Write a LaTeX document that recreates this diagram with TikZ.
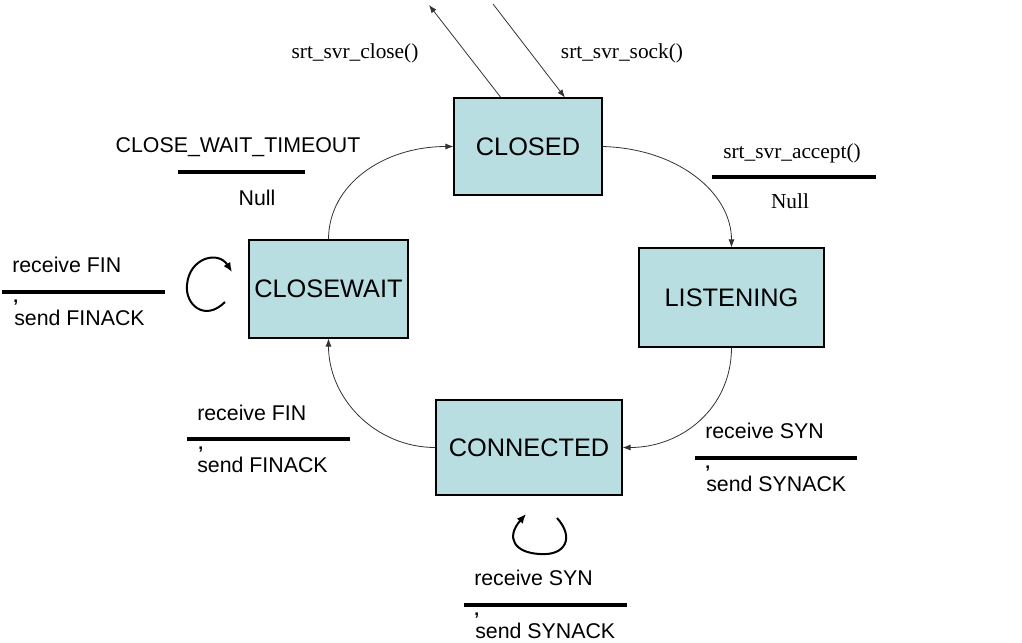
\documentclass[tikz,border=0pt]{standalone}
\usepackage{fontspec}
\setmainfont{Liberation Serif}
\newfontfamily\arial{Liberation Sans}
\usetikzlibrary{arrows.meta}
\definecolor{statefill}{RGB}{184,222,226}
\begin{document}
\begin{tikzpicture}[x=0.75pt,y=-0.75pt,
  state/.style={draw=black, line width=0.8pt, fill=statefill, font=\arial\fontsize{19}{22}\selectfont, inner sep=0pt},
  conn/.style={draw=black!80, line width=0.6pt, -{Latex[length=6pt,width=4.5pt]}},
  loopline/.style={draw=black, line width=1.5pt, -{Latex[length=7pt,width=6pt]}},
  rulebar/.style={draw=black, line width=2.8pt},
  lbl/.style={font=\arial\fontsize{16}{19}\selectfont, inner sep=0pt, anchor=base west},
  clbl/.style={font=\arial\fontsize{16}{19}\selectfont, inner sep=0pt, anchor=base},
  flbl/.style={font=\fontsize{16}{19}\selectfont, inner sep=0pt, anchor=base},
  commamark/.style={font=\arial\bfseries\fontsize{13}{15}\selectfont, inner sep=0pt, anchor=base west}]

\fill[white] (0,0) rectangle (1022,643);
\useasboundingbox (0,0) rectangle (1022,643);

% states
\node[state, minimum width=111pt, minimum height=72.75pt] (closed) at (528,146.5) {CLOSED};
\node[state, minimum width=138.75pt, minimum height=74.25pt] (listening) at (731.5,297.5) {LISTENING};
\node[state, minimum width=139.5pt, minimum height=71.25pt] (connected) at (529,447.5) {CONNECTED};
\node[state, minimum width=119.25pt, minimum height=73.5pt] (closewait) at (328.5,289) {CLOSEWAIT};

% transitions
\draw[conn] (closed.east) .. controls +(75,2) and +(0,-55) .. (listening.north);
\draw[conn] (listening.south) .. controls +(0,60) and +(60,0) .. (connected.east);
\draw[conn] (connected.west) .. controls +(-60,0) and +(0,60) .. (closewait.south);
\draw[conn] (closewait.north) .. controls +(0,-55) and +(-70,0) .. (closed.west);

% external arrows
\coordinate (closeout) at (429,5);
\coordinate (sockin) at (493,4);
\draw[conn] (closed.119) -- (closeout);
\draw[conn] (sockin) -- (closed.53);

% self loops
\coordinate (cwstart) at (225,302);
\coordinate (cwend) at (232,272);
\draw[loopline] (cwstart) .. controls (205,322) and (185,305) .. (187,285) .. controls (189,258) and (218,250) .. (cwend);
\coordinate (cnstart) at (557,518);
\coordinate (cnend) at (526,514);
\draw[loopline] (cnstart) .. controls (575,538) and (565,556) .. (540,554) .. controls (515,553) and (505,538) .. (cnend);

% labels: top
\node[flbl] (tclose) at (355,58) {srt\_svr\_close()};
\node[flbl] (tsock) at (622,58) {srt\_svr\_sock()};

% CLOSE_WAIT_TIMEOUT / Null
\node[clbl] (cwt) at (238,152) {CLOSE\_WAIT\_TIMEOUT};
\draw[rulebar] (178,172) -- (305,172);
\node[clbl] (cwtnull) at (257,205) {Null};

% srt_svr_accept / Null
\node[flbl] (tacc) at (792,158) {srt\_svr\_accept()};
\draw[rulebar] (712,177) -- (876,177);
\node[flbl] (taccnull) at (790,208) {Null};

% left: receive FIN
\node[lbl] (lfin) at (12,272) {receive FIN};
\draw[rulebar] (2,292) -- (165,292);
\node[commamark] (lcomma) at (13,302) {,};
\node[lbl] (lfinack) at (14,325) {send FINACK};

% middle: receive FIN
\node[lbl] (mfin) at (197,420) {receive FIN};
\draw[rulebar] (187,439) -- (350,439);
\node[commamark] (mcomma) at (198,449) {,};
\node[lbl] (mfinack) at (197,472) {send FINACK};

% right: receive SYN
\node[lbl] (rsyn) at (705,438) {receive SYN};
\draw[rulebar] (695,458) -- (857,458);
\node[commamark] (rcomma) at (705,468) {,};
\node[lbl] (rsynack) at (706,491) {send SYNACK};

% bottom: receive SYN
\node[lbl] (bsyn) at (474,585) {receive SYN};
\draw[rulebar] (464,605) -- (627,605);
\node[commamark] (bcomma) at (474,615) {,};
\node[lbl] (bsynack) at (475,638) {send SYNACK};
\end{tikzpicture}
\end{document}
